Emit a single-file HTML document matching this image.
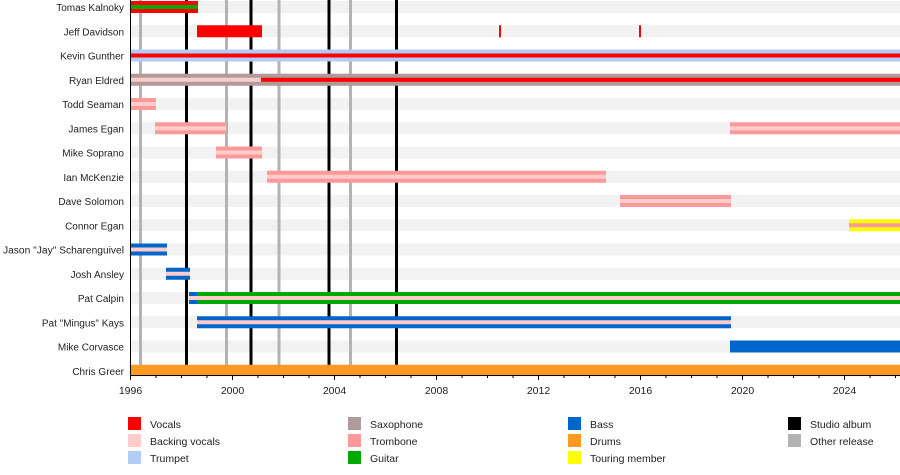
<!DOCTYPE html>
<html><head><meta charset="utf-8"><style>
body{margin:0;background:#fff;}
svg text{font-family:"Liberation Sans",Arial,sans-serif;font-size:10.5px;fill:#222;}
svg .lab text{font-size:10px;}
</style></head><body>
<svg width="900" height="470" viewBox="0 0 900 470" xmlns="http://www.w3.org/2000/svg">
<g fill="#f2f2f2">
<rect x="130" y="1" width="770" height="12"/><rect x="130" y="25.25" width="770" height="12"/><rect x="130" y="49.5" width="770" height="12"/><rect x="130" y="73.75" width="770" height="12"/><rect x="130" y="98" width="770" height="12"/><rect x="130" y="122.25" width="770" height="12"/><rect x="130" y="146.5" width="770" height="12"/><rect x="130" y="170.75" width="770" height="12"/><rect x="130" y="195" width="770" height="12"/><rect x="130" y="219.25" width="770" height="12"/><rect x="130" y="243.5" width="770" height="12"/><rect x="130" y="267.75" width="770" height="12"/><rect x="130" y="292" width="770" height="12"/><rect x="130" y="316.25" width="770" height="12"/><rect x="130" y="340.5" width="770" height="12"/><rect x="130" y="364.75" width="770" height="12"/>
</g>
<g fill="#b3b3b3"><rect x="139" y="0" width="3" height="375"/><rect x="225" y="0" width="3" height="375"/><rect x="277.5" y="0" width="3" height="375"/><rect x="349" y="0" width="3" height="375"/></g>
<g fill="#000"><rect x="185" y="0" width="3" height="375"/><rect x="249.5" y="0" width="3" height="375"/><rect x="327.5" y="0" width="3" height="375"/><rect x="395" y="0" width="3" height="375"/></g>
<rect x="130" y="1" width="68" height="12" fill="#ff0000"/><rect x="130" y="5" width="68" height="4" fill="#00aa00"/>
<rect x="197" y="25.25" width="65" height="12" fill="#ff0000"/><rect x="499" y="25.25" width="2" height="12" fill="#ff0000"/><rect x="639" y="25.25" width="2" height="12" fill="#ff0000"/>
<rect x="130" y="49.5" width="770" height="12" fill="#b3ccf5"/><rect x="130" y="53.5" width="770" height="4" fill="#ff0000"/>
<rect x="130" y="73.75" width="770" height="12" fill="#b09a9a"/><rect x="130" y="77.75" width="131" height="4" fill="#ffcccc"/><rect x="261" y="77.75" width="639" height="4" fill="#ff0000"/>
<rect x="130" y="98" width="26" height="12" fill="#ff9999"/><rect x="130" y="102" width="26" height="4" fill="#ffcccc"/>
<rect x="155" y="122.25" width="71" height="12" fill="#ff9999"/><rect x="155" y="126.25" width="71" height="4" fill="#ffcccc"/>
<rect x="730" y="122.25" width="170" height="12" fill="#ff9999"/><rect x="730" y="126.25" width="170" height="4" fill="#ffcccc"/>
<rect x="216" y="146.5" width="46" height="12" fill="#ff9999"/><rect x="216" y="150.5" width="46" height="4" fill="#ffcccc"/>
<rect x="267" y="170.75" width="339" height="12" fill="#ff9999"/><rect x="267" y="174.75" width="339" height="4" fill="#ffcccc"/>
<rect x="620" y="195" width="111" height="12" fill="#ff9999"/><rect x="620" y="199" width="111" height="4" fill="#ffcccc"/>
<rect x="849" y="219.25" width="51" height="12" fill="#ffff00"/><rect x="849" y="223.25" width="51" height="4" fill="#ff9999"/>
<rect x="130" y="243.5" width="37" height="12" fill="#0066cc"/><rect x="130" y="247.5" width="37" height="4" fill="#ffcccc"/>
<rect x="166" y="267.75" width="24" height="12" fill="#0066cc"/><rect x="166" y="271.75" width="24" height="4" fill="#ffcccc"/>
<rect x="189" y="292" width="8" height="12" fill="#0066cc"/><rect x="197" y="292" width="703" height="12" fill="#00aa00"/><rect x="189" y="296" width="711" height="4" fill="#ffcccc"/>
<rect x="197" y="316.25" width="534" height="12" fill="#0066cc"/><rect x="197" y="320.25" width="534" height="4" fill="#ffcccc"/>
<rect x="730" y="340.5" width="170" height="12" fill="#0066cc"/>
<rect x="130" y="364.75" width="770" height="11" fill="#ff9922"/>
<rect x="130" y="0" width="1" height="376" fill="#000"/>
<rect x="130" y="375" width="770" height="1" fill="#000"/>
<g stroke="#000" stroke-width="1">
<path d="M130.5 375v5M156 375v3M181.5 375v3M207 375v3M232.5 375v5M258 375v3M283.5 375v3M309 375v3M334.5 375v5M360 375v3M385.5 375v3M411 375v3M436.5 375v5M462 375v3M487.5 375v3M513 375v3M538.5 375v5M564 375v3M589.5 375v3M615 375v3M640.5 375v5M666 375v3M691.5 375v3M717 375v3M742.5 375v5M768 375v3M793.5 375v3M819 375v3M844.5 375v5M870 375v3M895.5 375v3"/>
</g>
<g text-anchor="middle">
<text x="130.5" y="394">1996</text><text x="232.5" y="394">2000</text><text x="334.5" y="394">2004</text><text x="436.5" y="394">2008</text><text x="538.5" y="394">2012</text><text x="640.5" y="394">2016</text><text x="742.5" y="394">2020</text><text x="844.5" y="394">2024</text>
</g>
<g text-anchor="end" class="lab">
<text x="124" y="11">Tomas Kalnoky</text>
<text x="124" y="35.25">Jeff Davidson</text>
<text x="124" y="59.5">Kevin Gunther</text>
<text x="124" y="83.75">Ryan Eldred</text>
<text x="124" y="108">Todd Seaman</text>
<text x="124" y="132.25">James Egan</text>
<text x="124" y="156.5">Mike Soprano</text>
<text x="124" y="180.75">Ian McKenzie</text>
<text x="124" y="205">Dave Solomon</text>
<text x="124" y="229.25">Connor Egan</text>
<text x="124" y="253.5" textLength="121" lengthAdjust="spacingAndGlyphs">Jason "Jay" Scharenguivel</text>
<text x="124" y="277.75">Josh Ansley</text>
<text x="124" y="302">Pat Calpin</text>
<text x="124" y="326.25">Pat "Mingus" Kays</text>
<text x="124" y="350.5">Mike Corvasce</text>
<text x="124" y="374.75">Chris Greer</text>
</g>
<rect x="128" y="417" width="13" height="13" fill="#ff0000"/><text x="150" y="428">Vocals</text>
<rect x="128" y="434" width="13" height="13" fill="#ffcccc"/><text x="150" y="445">Backing vocals</text>
<rect x="128" y="451" width="13" height="13" fill="#b3ccf5"/><text x="150" y="462">Trumpet</text>
<rect x="348" y="417" width="13" height="13" fill="#b09a9a"/><text x="370" y="428">Saxophone</text>
<rect x="348" y="434" width="13" height="13" fill="#ff9999"/><text x="370" y="445">Trombone</text>
<rect x="348" y="451" width="13" height="13" fill="#00aa00"/><text x="370" y="462">Guitar</text>
<rect x="568" y="417" width="13" height="13" fill="#0066cc"/><text x="590" y="428">Bass</text>
<rect x="568" y="434" width="13" height="13" fill="#ff9922"/><text x="590" y="445">Drums</text>
<rect x="568" y="451" width="13" height="13" fill="#ffff00"/><text x="590" y="462">Touring member</text>
<rect x="788" y="417" width="13" height="13" fill="#000"/><text x="810" y="428">Studio album</text>
<rect x="788" y="434" width="13" height="13" fill="#b3b3b3"/><text x="810" y="445">Other release</text>
</svg>
</body></html>
